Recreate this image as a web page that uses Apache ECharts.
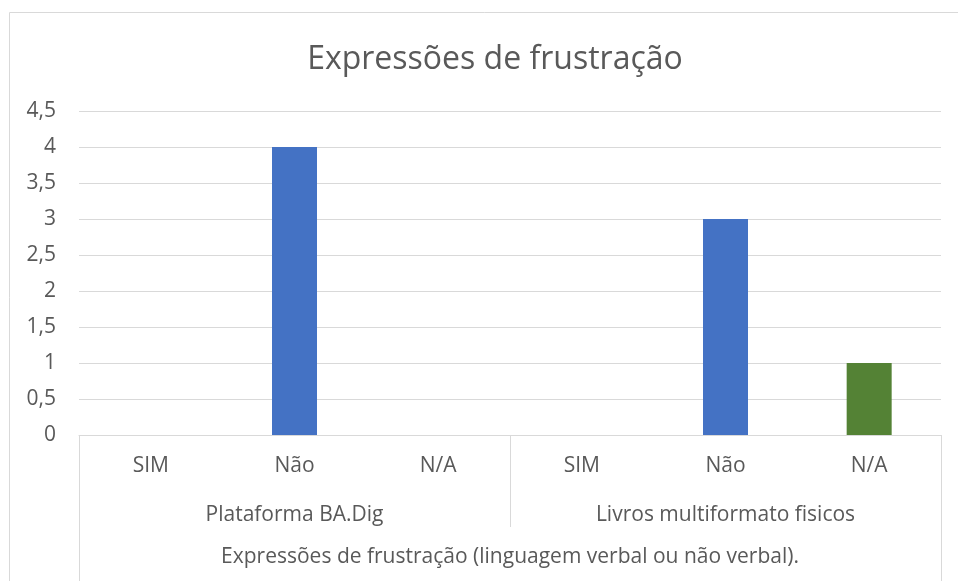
<!DOCTYPE html>
<html><head><meta charset="utf-8">
<script src="https://cdn.jsdelivr.net/npm/echarts@6/dist/echarts.min.js"></script>
<style>html,body{margin:0;padding:0;background:#fff}#c{width:958px;height:581px}</style>
</head><body><div id="c"></div>
<script>
const titleText = 'Expressões de frustração';
const categories = ['SIM', 'Não', 'N/A', 'SIM', 'Não', 'N/A'];
const groups = ['Plataforma BA.Dig', 'Livros multiformato fisicos'];
const outerLabel = ['Expressões de frustração (linguagem verbal ou não verbal).'];
const values = [0, 4, 0, 0, 3, 1];
const barColors = ['#4472C4', '#4472C4', '#548235', '#4472C4', '#4472C4', '#548235'];
const yTicks = [0, 0.5, 1, 1.5, 2, 2.5, 3, 3.5, 4, 4.5];

const font = 'Open Sans';
const txt = '#595959';
const line = '#d9d9d9';
const chart = echarts.init(document.getElementById('c'));
chart.setOption({
  animation: false,
  textStyle: { fontFamily: font },
  title: { text: titleText, left: 490, top: 39, textAlign: 'center',
    textStyle: { fontFamily: font, fontSize: 32, fontWeight: 'normal', color: txt } },
  graphic: [{ type: 'rect', shape: { x: 9.5, y: 12.5, width: 960, height: 600 },
    style: { fill: 'none', stroke: line, lineWidth: 1 }, silent: true }],
  grid: { left: 79, right: 17, top: 111, bottom: 146, containLabel: false },
  xAxis: [
    { type: 'category', data: categories, position: 'bottom',
      axisLine: { show: true, lineStyle: { color: line } },
      axisTick: { show: false },
      axisLabel: { color: txt, fontSize: 21, margin: 21, fontFamily: font } },
    { type: 'category', data: groups, position: 'bottom',
      axisLine: { show: false },
      axisTick: { show: true, length: 92, interval: 0, lineStyle: { color: line } },
      axisLabel: { color: txt, fontSize: 21, margin: 70, fontFamily: font } },
    { type: 'category', data: outerLabel, position: 'bottom',
      axisLine: { show: false },
      axisTick: { show: true, length: 150, interval: 0, lineStyle: { color: line } },
      axisLabel: { color: txt, fontSize: 21, margin: 112, fontFamily: font } }
  ],
  yAxis: { type: 'value', min: yTicks[0], max: yTicks[yTicks.length - 1], interval: 0.5,
    axisLine: { show: false }, axisTick: { show: false },
    splitLine: { lineStyle: { color: line } },
    axisLabel: { color: txt, fontSize: 21, margin: 23, fontFamily: font,
      formatter: v => String(v).replace('.', ',') } },
  series: [{ type: 'bar', xAxisIndex: 0, barWidth: 45,
    data: values.map((v, i) => ({ value: v, itemStyle: { color: barColors[i] } })) }]
});
</script></body></html>
